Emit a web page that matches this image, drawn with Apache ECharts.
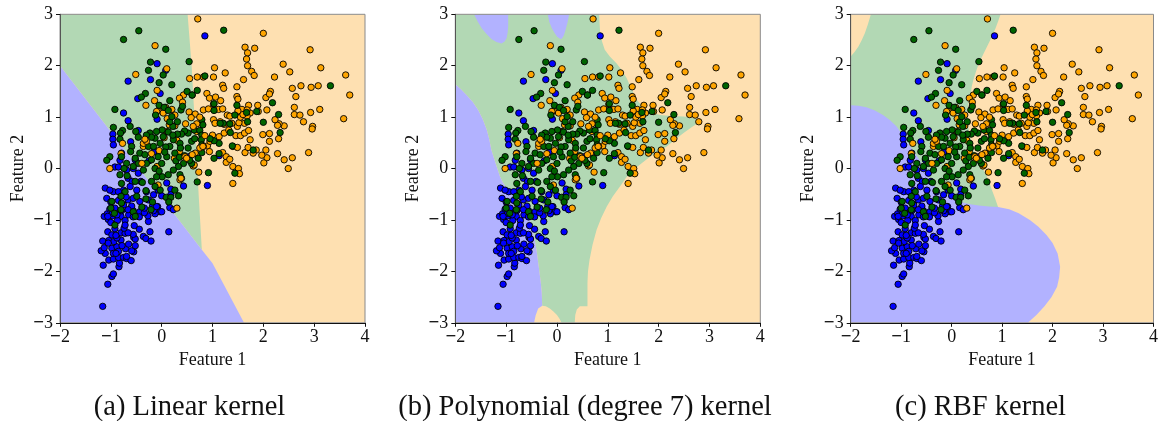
<!DOCTYPE html>
<html><head><meta charset="utf-8">
<style>html,body{margin:0;padding:0;background:#fff}#c{width:1161px;height:421px}</style>
<script src="https://cdn.jsdelivr.net/npm/echarts@6/dist/echarts.min.js"></script>
</head><body><div id="c"></div>
<script>
const captions = ["(a) Linear kernel","(b) Polynomial (degree 7) kernel","(c) RBF kernel"];
const xName = "Feature 1", yName = "Feature 2";
const xTicks = [-2,-1,0,1,2,3,4], yTicks = [-3,-2,-1,0,1,2,3];

const orangePts = [[.71,2.91],[-.13,2.39],[1.64,2.36],[1.83,2.34],[1.69,2.25],[1.67,2.13],[1.69,2.0],[1.77,1.89],[1.82,1.81],[2.0,2.63],[2.92,2.31],[2.39,2.03],[2.52,1.88],[3.13,1.96],[3.62,1.82],[3.7,1.43],[2.74,1.61],[2.57,1.56],[2.94,1.58],[3.08,1.61],[2.64,1.4],[2.61,1.19],[3.11,1.15],[2.93,1.09],[2.61,1.05],[2.72,1.04],[2.79,.91],[3.58,.97],[2.97,.82],[2.96,.77],[2.89,.31],[2.57,.21],[2.41,.17],[2.49,0],[2.28,.29],[2.07,.21],[2.05,.36],[1.97,.26],[2.01,.11],[2.12,.68],[1.99,.66],[2.12,.53],[2.3,.58],[2.41,.83],[2.31,.87],[2.23,.95],[2.28,.84],[2.07,1.14],[1.89,1.23],[2.05,1.38],[2.14,1.5],[2.12,1.45],[2.22,1.78],[1.61,1.73],[1.48,1.59],[1.25,1.86],[1.04,1.96],[1.02,1.78],[1.2,1.62],[1.22,1.56],[.89,1.46],[.94,1.37],[1.06,1.39],[1.16,1.32],[1.02,1.25],[1.48,1.4],[1.5,1.35],[.82,1.78],[.7,1.78],[.55,1.75],[.1,1.94],[-.51,1.83],[-.09,1.52],[-.31,1.23],[-.14,1.32],[.43,1.43],[.35,1.37],[.41,1.29],[.6,1.43],[.54,1.1],[.66,1.06],[.58,.99],[.82,1.14],[.92,1.16],[1.02,.95],[1.29,1.04],[1.38,.88],[1.15,.91],[1.23,.86],[1.13,.62],[1.23,.69],[1.32,.75],[1.46,.64],[1.55,.64],[1.63,.69],[1.71,.74],[1.74,.56],[1.49,.82],[1.71,1.23],[1.9,1.11],[1.58,1.15],[1.74,1.08],[1.68,1.02],[1.63,.88],[.9,.44],[.94,.33],[.62,.05],[.73,-.07],[1.2,.31],[1.27,.23],[1.27,.12],[1.34,.18],[1.4,.04],[1.51,0],[1.53,-.1],[1.4,-.29],[1.4,.43],[1.49,.41],[1.64,.31],[1.86,.36],[1.7,.41],[1.8,.3],[-.8,.29],[-.36,.43],[-.07,1.12],[-.09,.04],[-.07,-.32],[.1,.72],[.03,1.08],[.11,.97],[.08,1.19],[-.1,1.11],[.2,1.15],[.26,1.04],[.15,.85],[.26,.83],[.69,.72],[.95,.53],[.66,.3],[.6,.27],[.64,.07],[1.05,.88],[1.12,1.15],[1.2,1.16],[1.34,1.02],[1.5,1.12],[1.52,.89],[1.55,1.0],[1.6,1.05],[1.68,1.14],[1.0,.65],[.35,.33],[.25,.2],[.05,.6],[-.05,.35],[.3,.55]];
const orangeOverPts = [[-.2,.29],[-.36,.49],[-.3,.53],[-1.02,0],[-.77,.49],[-.33,.57],[-.39,.1],[.46,.23],[.36,-.22],[.47,.87],[.69,.87],[.75,1],[.62,.82],[.85,.64],[.82,.43],[.75,.4],[.81,.43],[.49,.2],[.3,-.77],[.38,-.19]];

const greenPts = [[1.22,2.69],[-.45,2.68],[-.75,2.51],[.08,2.32],[.54,2.08],[-.22,2.07],[-.26,1.91],[.03,1.82],[.85,1.8],[-.05,1.67],[.2,1.63],[3.32,1.61],[.5,1.5],[.7,1.52],[.6,1.43],[-.32,1.46],[-.4,1.39],[-.92,1.15],[.16,1.32],[-.05,1.23],[.05,1.19],[-.12,1.04],[.13,1.13],[1.03,1.26],[1.03,1.13],[2.18,1.28],[1.48,1.23],[1.44,1.04],[1.67,1.09],[1.87,1.11],[2.3,1.05],[2,.9],[1.69,.91],[1.21,.88],[1.34,.87],[1.15,.88],[2.33,.7],[1.35,.7],[1.39,.44],[1.8,.36],[1.44,-.09],[.92,-.08],[.7,-.26],[1.03,.2],[1.13,.29],[1.13,.49],[1.03,.54],[.95,.58],[.79,.95],[.81,.85],[.64,.75],[.75,.74],[.79,.65],[.78,.56],[.79,.46],[.79,.31],[.72,.2],[.59,.53],[.52,.69],[.45,.73],[.39,.67],[.31,.67],[.31,.91],[.22,.82],[.16,.91],[.2,1.01],[.38,1.14],[.41,1.21],[.01,.75],[.13,.71],[.23,.56],[.16,.43],[.26,.3],[.36,.49],[.37,.4],[.43,.1],[.59,.1],[.33,.04],[.23,-.03],[.13,-.12],[.01,-.16],[-.1,-.16],[-.13,0],[0,.1],[.1,.23],[-.07,.23],[-.2,.17],[-.3,.1],[-.36,-.03],[-.46,.1],[-.52,.2],[-.43,.3],[-.33,.27],[-.26,.43],[-.16,.43],[-.03,.49],[-.13,.59],[-.23,.69],[-.2,.61],[.03,.62],[-.3,.65],[-.46,.61],[-.51,.72],[-.62,.82],[-.77,.74],[-.81,.69],[-.95,.8],[-.82,.57],[-.59,.43],[-.61,.33],[-.79,.23],[-1.02,.23],[-1.08,.16],[-.69,.1],[-.56,.04],[-.82,-.12],[-.79,-.29],[-.52,-.25],[-.38,-.27],[-.2,-.25],[-.13,-.35],[-.03,-.42],[-.31,-.43],[-.49,-.54],[-.72,-.45],[-.8,-.54],[-.98,-.64],[-.31,-.59],[-.18,-.65],[-.39,-.75],[-.21,-.8],[-.79,-.67],[-.8,-.8],[-1,-.77],[-.93,-.87],[-.56,-.84],[-.52,-.93],[-.92,-1.1],[.09,-.56],[.18,-.56],[.14,-.65],[.26,-.42],[.33,-.53],[.36,-.12],[.39,-.19],[.52,.4],[.45,.25],[.28,.15],[.08,.42],[-.1,.72],[.35,.22],[-.05,-.05],[.22,.65],[.06,.32],[-.68,-.14],[-.74,.0],[.65,.58],[.55,.16]];

const bluePts = [[.85,2.58],[-.09,2.04],[.08,1.91],[-.22,1.73],[-.66,1.7],[-.03,1.46],[-.47,1.36],[-.75,1.08],[-.66,.93],[-.09,.96],[-.46,.74],[-.96,.67],[-.96,.57],[-.95,.46],[-.61,.52],[.9,-.33],[.43,-.34],[.18,-.4],[.16,-.76],[.23,-.8],[.14,-1.23],[-.08,-.74],[-.03,-.84],[-.13,-.88],[.18,-.51],[0,-.53],[1.13,.25],[.54,.23],[-1.16,-2.68],[-1.06,-2.25],[-.98,-2.1],[-.95,-2.05],[-1.15,-1.88],[-.84,-1.91],[-.83,-1.84],[-1.04,-1.78],[-.95,-1.76],[-.85,-1.73],[-.75,-1.73],[-.69,-1.75],[-.6,-1.79],[-.69,-1.71],[-1.11,-1.65],[-1.19,-1.6],[-1.13,-1.54],[-.98,-1.55],[-.95,-1.65],[-.88,-1.52],[-.85,-1.61],[-.71,-1.56],[-.55,-1.62],[-.59,-1.6],[-.65,-1.47],[-.52,-1.5],[-1.16,-1.41],[-1.04,-1.4],[-.94,-1.42],[-.8,-1.39],[-.88,-1.35],[-1.05,-1.45],[-.55,-1.34],[-.36,-1.32],[-.31,-1.36],[-.21,-1.41],[-.23,-1.23],[-.52,-1.37],[-.56,-1.28],[-1.06,-1.23],[-.98,-1.29],[-.8,-1.25],[-.72,-1.26],[-.66,-1.25],[-.44,-1.18],[-.54,-1.11],[-.74,-1.16],[-.92,-1.17],[-.26,-1.03],[-.27,-.92],[0,-.84],[-1.13,-.93],[-1.07,-.88],[-1.05,-.99],[-.8,-.93],[-.72,-1.01],[-.65,-.9],[-.56,-.82],[-.43,-.84],[-.44,-.94],[-.56,-.94],[-.34,-.86],[-.72,-1.1],[-.87,-1.01],[-.97,-.92],[-.92,-.8],[-.79,-.82],[-.59,-.73],[-.16,-.82],[-.18,-.73],[-.79,.3],[-.82,.16],[-.92,.03],[-.85,.03],[-.56,0],[-.46,-.09],[-.66,-.19],[-.58,-.25],[-.41,-.25],[-.75,-.42],[-.95,-.45],[-1.11,-.38],[-1.02,-.42],[-1.08,-.58],[-.85,-.45],[-.66,-.61],[-.56,-.58],[-.75,-.71],[-.92,-.77],[-1.02,-.79],[-.97,-.87],[-1.06,-.93],[-.43,-.64],[-.16,-.51],[-.34,-.77],[-.66,-.8],[-.1,-.74],[-.26,-.61],[-.07,-.42],[-.3,-.45],[-.49,-.42],[-.52,.17],[-.69,-.03],[-.62,-.35],[-.85,-.62],[-.7,-.55],[-1.0,-1.05],[-.88,-.9],[-.9,-1.3],[-.78,-1.5],[-.9,-1.65],[-1.0,-.65],[-.25,.15],[-.15,.33],[.1,-.28]];

/* decision regions, boundary vertices in data units */
const frameRegion = [[-2,3],[4,3],[4,-3],[-2,-3]];

const linearGreen = [[-2,3],[.51,3],[.59,2],[.73,-.55],[.79,-1.58],[-2,2]];
const linearBlue = [[-2,2],[.79,-1.58],[1,-1.84],[1.62,-3],[-2,-3]];

const polyGreen = [[-2,3],[.83,3],[.84,2.8],[.85,2.63],[.89,2.46],[.94,2.31],[1.04,2.18],[1.17,2.05],[1.27,1.92],[1.37,1.76],[1.47,1.54],[1.57,1.34],[1.66,1.23],[1.76,1.14],[1.88,1.08],[2.03,1.04],[2.25,1.02],[2.49,1.01],[2.7,.98],[2.85,.93],[2.67,.82],[2.49,.69],[2.32,.56],[2.16,.43],[2,.33],[1.83,.23],[1.66,.1],[1.5,-.03],[1.36,-.18],[1.24,-.35],[1.1,-.54],[.98,-.74],[.87,-.96],[.78,-1.19],[.7,-1.48],[.64,-1.78],[.61,-2],[.6,-2.23],[.6,-2.68],[.45,-2.68],[.39,-2.74],[.36,-2.85],[.35,-3],[.09,-3],[.05,-2.92],[0,-2.85],[-.07,-2.78],[-.14,-2.72],[-.22,-2.68],[-.29,-2.67],[-.3,-2.4],[-.32,-2.2],[-.36,-1.9],[-.4,-1.6],[-.45,-1.32],[-.5,-1.1],[-.57,-.88],[-.66,-.7],[-.82,-.54],[-.99,-.38],[-1.06,-.28],[-1.12,-.16],[-1.2,.08],[-1.29,.36],[-1.33,.56],[-1.38,.75],[-1.46,.96],[-1.55,1.14],[-1.66,1.3],[-1.78,1.43],[-1.89,1.54],[-2,1.64]];
const polyBlueLeft = [[-2,1.64],[-1.89,1.54],[-1.78,1.43],[-1.66,1.3],[-1.55,1.14],[-1.46,.96],[-1.38,.75],[-1.33,.56],[-1.29,.36],[-1.2,.08],[-1.12,-.16],[-1.06,-.28],[-.99,-.38],[-.82,-.54],[-.66,-.7],[-.57,-.88],[-.5,-1.1],[-.45,-1.32],[-.4,-1.6],[-.36,-1.9],[-.32,-2.2],[-.3,-2.4],[-.29,-2.67],[-.37,-2.72],[-.42,-2.86],[-.45,-3],[-2,-3]];
const polyBlueBlobA = [[-1.63,3],[-1.56,2.86],[-1.48,2.73],[-1.39,2.62],[-1.29,2.52],[-1.19,2.46],[-1.09,2.43],[-1.03,2.47],[-.99,2.54],[-.97,2.65],[-.96,2.76],[-.96,3]];
const polyBlueBlobB = [[-.18,3],[-.15,2.85],[-.1,2.73],[-.05,2.64],[0,2.57],[.05,2.53],[.09,2.52],[.13,2.58],[.17,2.7],[.21,2.85],[.24,3]];

const rbfGreen = [[-2,2.18],[-1.92,2.27],[-1.85,2.37],[-1.78,2.5],[-1.72,2.63],[-1.66,2.8],[-1.6,3],[.97,3],[.92,2.86],[.87,2.73],[.79,2.55],[.7,2.37],[.62,2.21],[.54,2.05],[.48,1.88],[.43,1.72],[.4,1.6],[.38,1.47],[.34,1.28],[.31,1.08],[.32,.88],[.35,.69],[.41,.45],[.48,.23],[.57,.07],[.67,-.09],[.74,-.25],[.8,-.42],[.86,-.58],[.92,-.75],[-2,-.75]];
const rbfBlue = [[-2,1.23],[-1.85,1.22],[-1.69,1.19],[-1.52,1.13],[-1.36,1.04],[-1.22,.94],[-1.09,.82],[-.98,.66],[-.87,.49],[-.75,.33],[-.64,.17],[-.54,-.03],[-.44,-.22],[-.32,-.36],[-.18,-.48],[0,-.57],[.15,-.64],[.34,-.69],[.54,-.72],[.74,-.74],[.92,-.75],[1.14,-.79],[1.33,-.87],[1.55,-1],[1.72,-1.13],[1.88,-1.29],[2,-1.45],[2.1,-1.65],[2.15,-1.91],[2.13,-2.12],[2.09,-2.3],[1.98,-2.5],[1.84,-2.68],[1.68,-2.85],[1.51,-3],[-2,-3]];

const colOrangeBg = "#fee0b1", colGreenBg = "#b2d8b4", colBlueBg = "#b2b2ff";
const panels = [
  {left:60, regions:[[frameRegion,colOrangeBg],[linearGreen,colGreenBg],[linearBlue,colBlueBg]], cx:184.5},
  {left:455.3, regions:[[frameRegion,colOrangeBg],[polyGreen,colGreenBg],[polyBlueLeft,colBlueBg],[polyBlueBlobA,colBlueBg],[polyBlueBlobB,colBlueBg]], cx:580},
  {left:850.7, regions:[[frameRegion,colOrangeBg],[rbfGreen,colGreenBg],[rbfBlue,colBlueBg]], cx:975.5}
];
const serif = "Liberation Serif";
const fmt = v => v < 0 ? "{m|\u2212}{d|" + Math.abs(v) + "}" : "{d|" + v + "}";
const tickRich = {m:{fontFamily:serif,fontSize:19,fontWeight:"bold",color:"#111"},d:{fontFamily:serif,fontSize:18,color:"#111"}};
const grids=[],xAxes=[],yAxes=[],series=[],titles=[];
panels.forEach((p,i)=>{
  grids.push({left:p.left,top:14.3,width:305,height:308.5,show:true,borderColor:"#8a8a8a",borderWidth:1,backgroundColor:"transparent",z:5});
  xAxes.push({type:"value",gridIndex:i,min:xTicks[0],max:xTicks[xTicks.length-1],interval:1,
    name:xName,nameLocation:"middle",nameGap:25,nameTextStyle:{fontFamily:serif,fontSize:18,color:"#111"},
    axisLine:{onZero:false,lineStyle:{color:"#111",width:1}},axisTick:{length:4,lineStyle:{color:"#111"}},
    axisLabel:{fontFamily:serif,fontSize:18,color:"#111",margin:5,formatter:fmt,rich:tickRich,hideOverlap:false,showMinLabel:true,showMaxLabel:true},splitLine:{show:false},z:6});
  yAxes.push({type:"value",gridIndex:i,min:yTicks[0],max:yTicks[yTicks.length-1],interval:1,
    name:yName,nameLocation:"middle",nameGap:33,nameTextStyle:{fontFamily:serif,fontSize:18,color:"#111"},
    axisLine:{onZero:false,lineStyle:{color:"#555",width:1}},axisTick:{length:4,lineStyle:{color:"#111"}},
    axisLabel:{fontFamily:serif,fontSize:18,color:"#111",margin:7,formatter:fmt,rich:tickRich,hideOverlap:false,showMinLabel:true,showMaxLabel:true},splitLine:{show:false},z:6});
  series.push({type:"custom",xAxisIndex:i,yAxisIndex:i,silent:true,z:1,clip:true,
    data:p.regions.map((r,k)=>[k]),
    encode:{x:0,y:0},
    renderItem:(params,api)=>{const r=p.regions[params.dataIndex];
      return {type:"polygon",shape:{points:r[0].map(q=>api.coord(q))},style:{fill:r[1],stroke:null}};}});
  [[bluePts,"#0000ff",2],[orangePts,"#ffa500",3],[greenPts,"#006400",4],[orangeOverPts,"#ffa500",4]].forEach(([d,c,z])=>{
    series.push({type:"scatter",xAxisIndex:i,yAxisIndex:i,data:d,symbol:"circle",symbolSize:6.4,z:z,silent:true,
      itemStyle:{color:c,opacity:1,borderColor:"#000",borderWidth:.9}});
  });
  titles.push({text:captions[i],left:p.cx,top:388,textAlign:"center",textStyle:{fontFamily:serif,fontSize:28.5,fontWeight:"normal",color:"#111"}});
});
const chart=echarts.init(document.getElementById("c"),null,{renderer:"canvas"});
chart.setOption({animation:false,backgroundColor:"#fff",title:titles,grid:grids,xAxis:xAxes,yAxis:yAxes,series:series});
</script></body></html>
